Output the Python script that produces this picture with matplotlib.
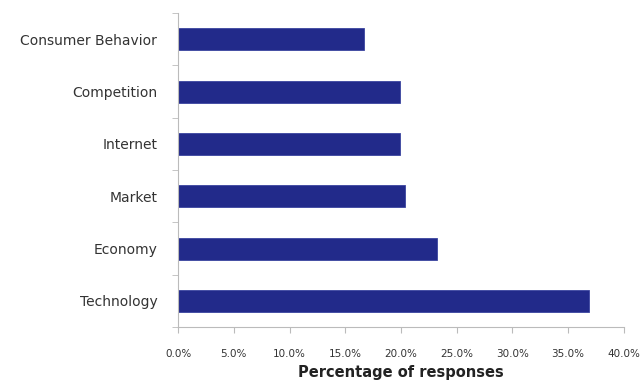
import matplotlib.pyplot as plt
from matplotlib.ticker import PercentFormatter

categories = ["Technology", "Economy", "Market", "Internet", "Competition", "Consumer Behavior"]
values = [36.9, 23.2, 20.4, 19.9, 19.9, 16.7]
xticks = [0, 5, 10, 15, 20, 25, 30, 35, 40]

fig = plt.figure(figsize=(6.43, 3.87), dpi=100)
ax = fig.add_axes([0.277, 0.155, 0.693, 0.811])

ax.barh(range(len(categories)), values, height=0.42, color="#222a8a", edgecolor="#3a44a0", linewidth=0.6)

ax.set_ylim(-0.5, len(categories) - 0.5)
ax.set_xlim(0, 40)
ax.set_xticks(xticks)
ax.xaxis.set_major_formatter(PercentFormatter(decimals=1))
ax.set_yticks(range(len(categories)))
ax.set_yticklabels(categories, fontsize=10, color="#333333")
# ticks between categories, like Excel
ax.set_yticks([i - 0.5 for i in range(len(categories) + 1)], minor=True)
ax.tick_params(axis="y", which="major", length=0, pad=15)
ax.tick_params(axis="y", which="minor", length=4, color="#bbbbbb", direction="out")
ax.tick_params(axis="x", labelsize=7.5, colors="#333333", length=4, color="#bbbbbb", pad=12)

for s in ["top", "right"]:
    ax.spines[s].set_visible(False)
for s in ["left", "bottom"]:
    ax.spines[s].set_color("#bbbbbb")
    ax.spines[s].set_linewidth(0.8)

ax.set_xlabel("Percentage of responses", fontsize=10.5, fontweight="bold", color="#222222", labelpad=4)

fig.savefig("out.png", dpi=100)
